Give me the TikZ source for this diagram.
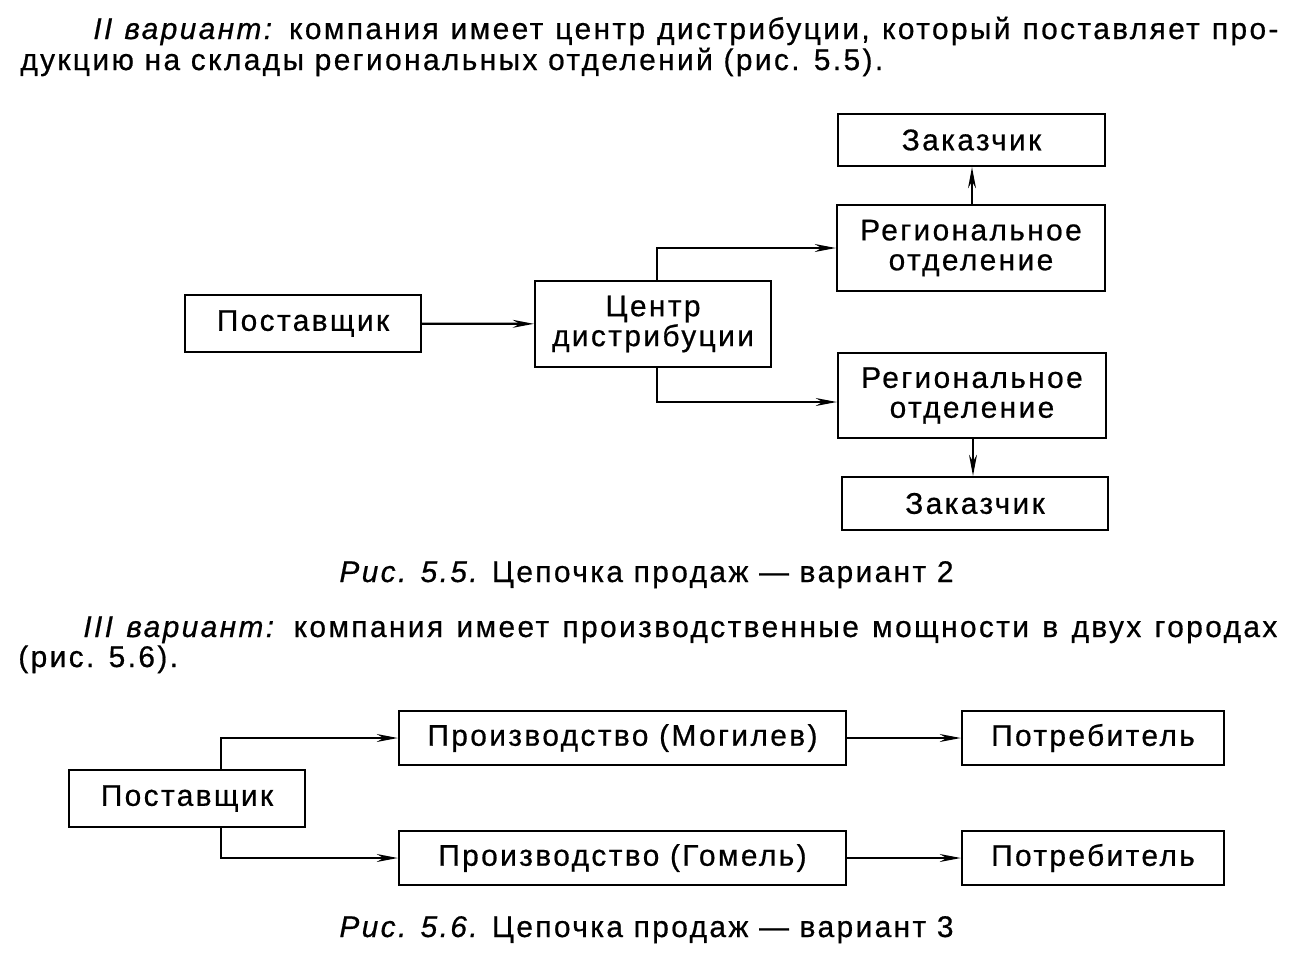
\documentclass[tikz,border=0pt]{standalone}
\usepackage{fontspec}
\setmainfont{Liberation Sans}[LetterSpace=8,FakeBold=0.6]
\usetikzlibrary{arrows.meta,calc}
\tikzset{
  box/.style={draw, line width=1.3pt, inner sep=0pt, align=center, font=\fontsize{17}{17}\selectfont},
  conn/.style={line width=1.3pt, -{Stealth[length=12pt,width=4.5pt]}},
  txt/.style={inner sep=0pt, font=\fontsize{17}{20}\selectfont},
}
\begin{document}
\begin{tikzpicture}
\useasboundingbox (0,0) rectangle (25.88,-19.10);
% text
\node[txt, anchor=base west] (t1) at (1.86,-0.78) {\makebox[23.7cm][s]{\itshape II вариант:\upshape{} компания имеет центр дистрибуции, который поставляет про-}};
\node[txt, anchor=base west] (t2) at (0.40,-1.40) {дукцию на склады региональных отделений (рис. 5.5).};
% fig 5.5
\node[box, minimum width=5.34cm, minimum height=1.04cm] (zak1) at (19.43,-2.80) {Заказчик};
\node[box, minimum width=5.36cm, minimum height=1.72cm] (reg1) at (19.42,-4.96) {Региональное\\отделение};
\node[box, minimum width=4.72cm, minimum height=1.14cm] (post1) at (6.06,-6.47) {Поставщик};
\node[box, minimum width=4.72cm, minimum height=1.72cm] (centr) at (13.06,-6.48) {Центр\\дистрибуции};
\node[box, minimum width=5.36cm, minimum height=1.70cm] (reg2) at (19.44,-7.91) {Региональное\\отделение};
\node[box, minimum width=5.32cm, minimum height=1.06cm] (zak2) at (19.50,-10.07) {Заказчик};
\draw[conn] (post1) -- (centr);
\draw[conn] ([xshift=0.08cm]centr.north) |- (reg1.west);
\draw[conn] ([xshift=0.08cm]centr.south) |- ([yshift=-0.13cm]reg2.west);
\draw[conn] ([xshift=0.02cm]reg1.north) -- ([xshift=0.02cm]reg1.north |- zak1.south);
\draw[conn] ([xshift=0.02cm]reg2.south) -- ([xshift=0.02cm]reg2.south |- zak2.north);
\node[txt, anchor=base] (cap1) at (12.93,-11.64) {\itshape Рис. 5.5.\upshape{} Цепочка продаж — вариант 2};
% text 2
\node[txt, anchor=base west] (t3) at (1.66,-12.74) {\makebox[23.88cm][s]{\itshape III вариант:\upshape{} компания имеет производственные мощности в двух городах}};
\node[txt, anchor=base west] (t4) at (0.36,-13.34) {(рис. 5.6).};
% fig 5.6
\node[box, minimum width=4.72cm, minimum height=1.14cm] (post2) at (3.74,-15.97) {Поставщик};
\node[box, minimum width=8.94cm, minimum height=1.08cm] (mog) at (12.45,-14.76) {Производство (Могилев)};
\node[box, minimum width=8.94cm, minimum height=1.08cm] (gom) at (12.45,-17.16) {Производство (Гомель)};
\node[box, minimum width=5.24cm, minimum height=1.08cm] (pot1) at (21.86,-14.76) {Потребитель};
\node[box, minimum width=5.24cm, minimum height=1.08cm] (pot2) at (21.86,-17.16) {Потребитель};
\draw[conn] ([xshift=0.68cm]post2.north) |- (mog.west);
\draw[conn] ([xshift=0.68cm]post2.south) |- (gom.west);
\draw[conn] (mog) -- (pot1);
\draw[conn] (gom) -- (pot2);
\node[txt, anchor=base] (cap2) at (12.93,-18.74) {\itshape Рис. 5.6.\upshape{} Цепочка продаж — вариант 3};
\end{tikzpicture}
\end{document}
